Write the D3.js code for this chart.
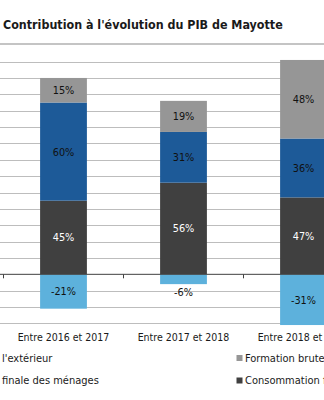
<!DOCTYPE html>
<html>
<head>
<meta charset="utf-8">
<script src="https://cdn.jsdelivr.net/npm/d3@7"></script>
<style>
  body { margin: 0; background: #fff; }
  svg { display: block; }
  text { font-family: "DejaVu Sans Condensed", "DejaVu Sans", sans-serif; }
</style>
</head>
<body>
<div id="chart"></div>
<script>
const width = 324;
const height = 400;

// data
const categories = ["Entre 2016 et 2017", "Entre 2017 et 2018", "Entre 2018 et 2019"];
const seriesNames = ["Consommation finale des administrations", "Consommation finale des ménages",
                     "Formation brute de capital fixe", "Échanges avec l'extérieur"];
const consoApu = [45, 56, 47];
const consoMenages = [60, 31, 36];
const fbcf = [15, 19, 48];
const echanges = [-21, -6, -31];
const gridTicks = [-30, -20, -10, 10, 20, 30, 40, 50, 60, 70, 80, 90, 100, 110, 120, 130];

const colors = ["#404040", "#1d5a98", "#969696", "#5db1dc"];
const labelColors = ["#ffffff", "#111111", "#111111", "#111111"];

let rows = categories.map((c, i) => ({
	cat: c,
	s0: consoApu[i], s1: consoMenages[i], s2: fbcf[i], s3: echanges[i]
}));

let stacked = d3.stack()
	.keys(["s0", "s1", "s2", "s3"])
	.offset(d3.stackOffsetDiverging)(rows);

let x = d3.scaleBand()
	.domain(categories)
	.range([3.5, 363.5])
	.paddingInner(0.61)
	.paddingOuter(0.305);
let y = d3.scaleLinear()
	.domain([-30, 130])
	.range([323.4, 61.6]);

let svg = d3.select("#chart").append("svg")
	.attr("width", width)
	.attr("height", height);

// title
svg.append("text")
	.attr("x", 3)
	.attr("y", 29)
	.attr("font-size", 12.4)
	.attr("font-weight", "bold")
	.attr("fill", "#1a1a1a")
	.text("Contribution à l'évolution du PIB de Mayotte");
svg.append("line")
	.attr("x1", 0).attr("x2", width)
	.attr("y1", 44).attr("y2", 44)
	.attr("stroke", "#c4c4c4")
	.attr("stroke-width", 2);

// gridlines
svg.append("g")
	.selectAll("line")
	.data(gridTicks)
	.join("line")
	.attr("x1", 0).attr("x2", width)
	.attr("y1", d => Math.round(y(d)) + 0.5)
	.attr("y2", d => Math.round(y(d)) + 0.5)
	.attr("stroke", "#bdbdbd")
	.attr("stroke-width", 1.2);

// bars
let layers = svg.append("g")
	.selectAll("g")
	.data(stacked)
	.join("g")
	.attr("fill", (d, i) => colors[i]);
layers.selectAll("rect")
	.data(d => d)
	.join("rect")
	.attr("x", d => x(d.data.cat))
	.attr("width", x.bandwidth())
	.attr("y", d => y(Math.max(d[0], d[1])))
	.attr("height", d => Math.abs(y(d[0]) - y(d[1])));

// zero axis
let step = x.step();
svg.append("line")
	.attr("x1", 0).attr("x2", width)
	.attr("y1", y(0)).attr("y2", y(0))
	.attr("stroke", "#404040")
	.attr("stroke-width", 1);
svg.append("g")
	.selectAll("line")
	.data(categories)
	.join("line")
	.attr("x1", d => x(d) + x.bandwidth()/2 - step/2)
	.attr("x2", d => x(d) + x.bandwidth()/2 - step/2)
	.attr("y1", y(0)).attr("y2", y(0) + 4)
	.attr("stroke", "#404040");

// data labels
stacked.forEach((layer, li) => {
	svg.append("g")
		.selectAll("text")
		.data(layer)
		.join("text")
		.attr("x", d => x(d.data.cat) + x.bandwidth()/2)
		.attr("y", d => {
			let h = Math.abs(y(d[0]) - y(d[1]));
			if (h < 14) return Math.max(y(d[0]), y(d[1])) + 12;
			return (y(d[0]) + y(d[1]))/2 + 4;
		})
		.attr("text-anchor", "middle")
		.attr("font-size", 10.8)
		.attr("fill", labelColors[li])
		.text(d => d.data[layer.key] + "%");
});

// category labels
svg.append("g")
	.selectAll("text")
	.data(categories)
	.join("text")
	.attr("x", d => x(d) + x.bandwidth()/2)
	.attr("y", 341)
	.attr("text-anchor", "middle")
	.attr("font-size", 10.5)
	.attr("fill", "#1a1a1a")
	.text(d => d);

// legend, two columns, left column partly out of view
let legendItems = [
	{name: seriesNames[3], cut: "Échanges avec ".length, color: colors[3], col: 0, row: 0},
	{name: seriesNames[2], cut: 0, color: colors[2], col: 1, row: 0},
	{name: seriesNames[1], cut: "Consommation ".length, color: colors[1], col: 0, row: 1},
	{name: seriesNames[0], cut: 0, color: colors[0], col: 1, row: 1}
];
let legend = svg.append("g");
legendItems.forEach(it => {
	let g = legend.append("g");
	let t = g.append("text")
		.attr("y", 361.5 + it.row*22.5)
		.attr("font-size", 11)
		.attr("fill", "#1a1a1a");
	let pre = t.append("tspan").text(it.name.slice(0, it.cut));
	t.append("tspan").text(it.name.slice(it.cut));
	let tx = it.col == 1 ? 245 : 2 - pre.node().getComputedTextLength();
	t.attr("x", tx);
	g.append("rect")
		.attr("x", tx - 8.5)
		.attr("y", 355 + it.row*22.5)
		.attr("width", 6)
		.attr("height", 6)
		.attr("fill", it.color);
});
</script>
</body>
</html>
